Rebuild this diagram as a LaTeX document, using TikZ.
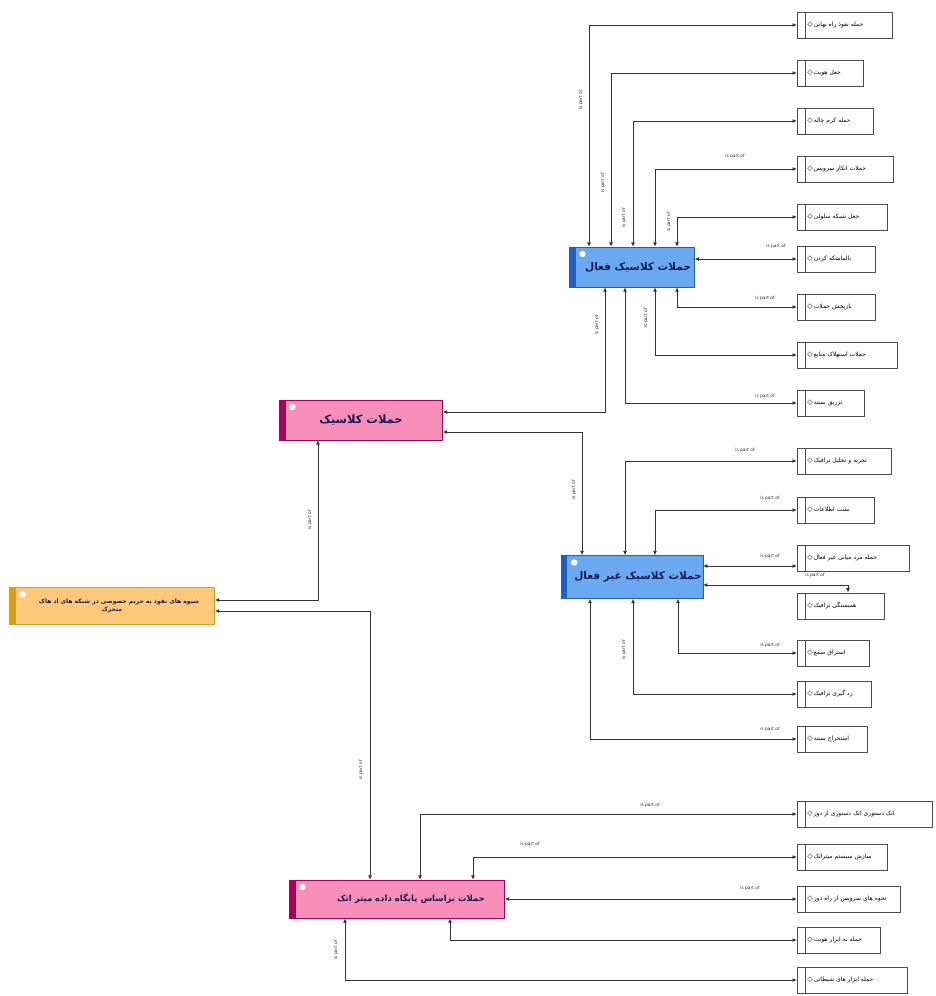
\documentclass[tikz,border=0pt]{standalone}
\usepackage{fontspec}
\setmainfont{DejaVu Sans}
\newfontfamily\arabicfont[Script=Arabic]{DejaVu Sans}
\TeXXeTstate=1
\usetikzlibrary{arrows.meta}
\newcommand\pers[1]{{\arabicfont\beginR #1\endR}}
\newcommand\dia{{\fontsize{7}{7}\selectfont\char"25C7}}
\definecolor{bluefill}{HTML}{6AA9F2}
\definecolor{bluedark}{HTML}{1F5FC4}
\definecolor{pinkfill}{HTML}{F78FB8}
\definecolor{pinkdark}{HTML}{A8005E}
\definecolor{orfill}{HTML}{FCC97A}
\definecolor{ordark}{HTML}{E39A12}
\definecolor{navy}{HTML}{1A1A55}
\definecolor{linegray}{HTML}{333333}
\tikzset{
  x=1pt, y=-1pt,
  childbox/.style={draw=black!70, line width=0.8pt, fill=white, anchor=west, minimum height=26pt,
    text width=#1, align=left, inner xsep=2pt, inner ysep=0pt,
    font=\fontsize{6}{7}\selectfont,
    path picture={\draw[black!70, line width=0.8pt] ([xshift=8pt]path picture bounding box.north west) -- ([xshift=8pt]path picture bounding box.south west);}},
  mainbox/.style n args={4}{draw=#2, fill=#1, minimum width=#3, minimum height=#4,
    text=navy, inner sep=1pt,
    path picture={\fill[#2] (path picture bounding box.north west) rectangle ([xshift=6pt]path picture bounding box.south west);
      \fill[white] ([xshift=13pt,yshift=-7pt]path picture bounding box.north west) circle[radius=3.2pt];}},
  conn/.style={draw=linegray, line width=0.95pt, {Latex[length=4.5pt,width=4pt]}-{Latex[length=4.5pt,width=4pt]}},
  lab/.style={font=\fontsize{4.3}{4.3}\selectfont, inner sep=0.5pt, text=black!85},
  vlab/.style={lab, rotate=90}
}
\begin{document}
\begin{tikzpicture}
\useasboundingbox (0,0) rectangle (935,996);

% main nodes
\node[mainbox={bluefill}{bluedark}{125pt}{40pt}, font=\bfseries\fontsize{10.5}{12}\selectfont] (act) at (632,267) {\hspace*{12pt}\pers{حملات کلاسیک فعال}};
\node[mainbox={bluefill}{bluedark}{139pt}{43pt}, font=\bfseries\fontsize{10.5}{12}\selectfont] (pas) at (632,577) {\hspace*{12pt}\pers{حملات کلاسیک غیر فعال}};
\node[mainbox={pinkfill}{pinkdark}{163pt}{40pt}, font=\bfseries\fontsize{11.5}{12}\selectfont] (cls) at (361,420) {\pers{حملات کلاسیک}};
\node[mainbox={orfill}{ordark}{205pt}{37pt}, font=\bfseries\fontsize{6}{8}\selectfont, align=center] (ori) at (112,606) {\hspace*{14pt}\pers{شیوه های نفوذ به حریم خصوصی در شبکه های اد هاک}\\ \pers{متحرک}};
\node[mainbox={pinkfill}{pinkdark}{215pt}{38pt}, font=\bfseries\fontsize{8.5}{9}\selectfont] (mit) at (397,899) {\hspace*{28pt}\pers{حملات براساس پایگاه داده میتر اتک}};

% children of active
\node[childbox=91pt] (c1) at (797,25) {\hspace*{8pt}\dia\,\pers{حمله نفوذ راه نهانی}};
\node[childbox=62pt] (c2) at (797,73) {\hspace*{8pt}\dia\,\pers{جعل هویت}};
\node[childbox=72pt] (c3) at (797,121) {\hspace*{8pt}\dia\,\pers{حمله کرم چاله}};
\node[childbox=92pt] (c4) at (797,169) {\hspace*{8pt}\dia\,\pers{حملات انکار سرویس}};
\node[childbox=86pt] (c5) at (797,217) {\hspace*{8pt}\dia\,\pers{جعل شبکه سلولی}};
\node[childbox=74pt] (c6) at (797,259) {\hspace*{8pt}\dia\,\pers{بالماسکه کردن}};
\node[childbox=74pt] (c7) at (797,307) {\hspace*{8pt}\dia\,\pers{بازپخش حملات}};
\node[childbox=96pt] (c8) at (797,355) {\hspace*{8pt}\dia\,\pers{حملات استهلاک منابع}};
\node[childbox=63pt] (c9) at (797,403) {\hspace*{8pt}\dia\,\pers{تزریق بسته}};
% children of passive
\node[childbox=90pt] (c10) at (797,461) {\hspace*{8pt}\dia\,\pers{تجزیه و تحلیل ترافیک}};
\node[childbox=73pt] (c11) at (797,510) {\hspace*{8pt}\dia\,\pers{نشت اطلاعات}};
\node[childbox=108pt] (c12) at (797,558) {\hspace*{8pt}\dia\,\pers{حمله مرد میانی غیر فعال}};
\node[childbox=83pt] (c13) at (797,606) {\hspace*{8pt}\dia\,\pers{همبستگی ترافیک}};
\node[childbox=68pt] (c14) at (797,653) {\hspace*{8pt}\dia\,\pers{استراق سمع}};
\node[childbox=70pt] (c15) at (797,694) {\hspace*{8pt}\dia\,\pers{رد گیری ترافیک}};
\node[childbox=66pt] (c16) at (797,739) {\hspace*{8pt}\dia\,\pers{استخراج بسته}};
% children of mitre
\node[childbox=131pt] (c17) at (797,814) {\hspace*{8pt}\dia\,\pers{اتک دستوری اتک دستوری از دور}};
\node[childbox=86pt] (c18) at (797,857) {\hspace*{8pt}\dia\,\pers{سازش سیستم میتراتک}};
\node[childbox=99pt] (c19) at (797,899) {\hspace*{8pt}\dia\,\pers{نحوه های سرویس از راه دور}};
\node[childbox=79pt] (c20) at (797,940) {\hspace*{8pt}\dia\,\pers{حمله به ابزار هویت}};
\node[childbox=106pt] (c21) at (797,980) {\hspace*{8pt}\dia\,\pers{حمله ابزار های شیطانی}};

% connectors active
\draw[conn] (c1.west) -| (act.north -| 589,0);
\draw[conn] (c2.west) -| (act.north -| 611,0);
\draw[conn] (c3.west) -| (act.north -| 633,0);
\draw[conn] (c4.west) -| (act.north -| 655,0);
\draw[conn] (c5.west) -| (act.north -| 677,0);
\draw[conn] (c6.west) -- (c6.west -| act.east);
\draw[conn] (c7.west) -| (act.south -| 677,0);
\draw[conn] (c8.west) -| (act.south -| 655,0);
\draw[conn] (c9.west) -| (act.south -| 625,0);
\draw[conn] (act.south -| 605,0) |- (cls.east |- 0,412);
\draw[conn] (cls.east |- 0,432) -| (pas.north -| 582,0);
% connectors passive
\draw[conn] (c10.west) -| (pas.north -| 625,0);
\draw[conn] (c11.west) -| (pas.north -| 655,0);
\draw[conn] (c12.west |- 0,566) -- (pas.east |- 0,566);
\draw[conn] (pas.east |- 0,585) -| (c13.north -| 848,0);
\draw[conn] (c14.west) -| (pas.south -| 678,0);
\draw[conn] (c15.west) -| (pas.south -| 633,0);
\draw[conn] (c16.west) -| (pas.south -| 590,0);
% classic / orange / mitre
\draw[conn] (cls.south -| 318,0) |- (ori.east |- 0,600);
\draw[conn] (ori.east |- 0,611) -| (mit.north -| 370,0);
\draw[conn] (c17.west) -| (mit.north -| 420,0);
\draw[conn] (c18.west) -| (mit.north -| 473,0);
\draw[conn] (c19.west) -- (mit.east |- c19.west);
\draw[conn] (c20.west) -| (mit.south -| 450,0);
\draw[conn] (c21.west) -| (mit.south -| 345,0);

% labels
\node[vlab] (l1) at (581,100) {is part of};
\node[vlab] (l2) at (603,183) {is part of};
\node[vlab] (l3) at (624,218) {is part of};
\node[lab] (l4) at (735,156) {is part of};
\node[vlab] (l5) at (669,222) {is part of};
\node[lab] (l6) at (776,246) {is part of};
\node[lab] (l7) at (765,298) {is part of};
\node[vlab] (l8) at (646,318) {is part of};
\node[lab] (l9) at (765,396) {is part of};
\node[vlab] (la) at (597,325) {is part of};
\node[vlab] (lp) at (574,490) {is part of};
\node[lab] (l10) at (745,450) {is part of};
\node[lab] (l11) at (770,498) {is part of};
\node[lab] (l12) at (770,556) {is part of};
\node[lab] (l13) at (815,575) {is part of};
\node[lab] (l14) at (770,645) {is part of};
\node[vlab] (l15) at (624,650) {is part of};
\node[lab] (l16) at (770,729) {is part of};
\node[vlab] (lo1) at (310,520) {is part of};
\node[vlab] (lo2) at (361,770) {is part of};
\node[lab] (l17) at (650,805) {is part of};
\node[lab] (l18) at (530,844) {is part of};
\node[lab] (l19) at (750,888) {is part of};
\node[vlab] (l21) at (336,950) {is part of};
\end{tikzpicture}
\end{document}
